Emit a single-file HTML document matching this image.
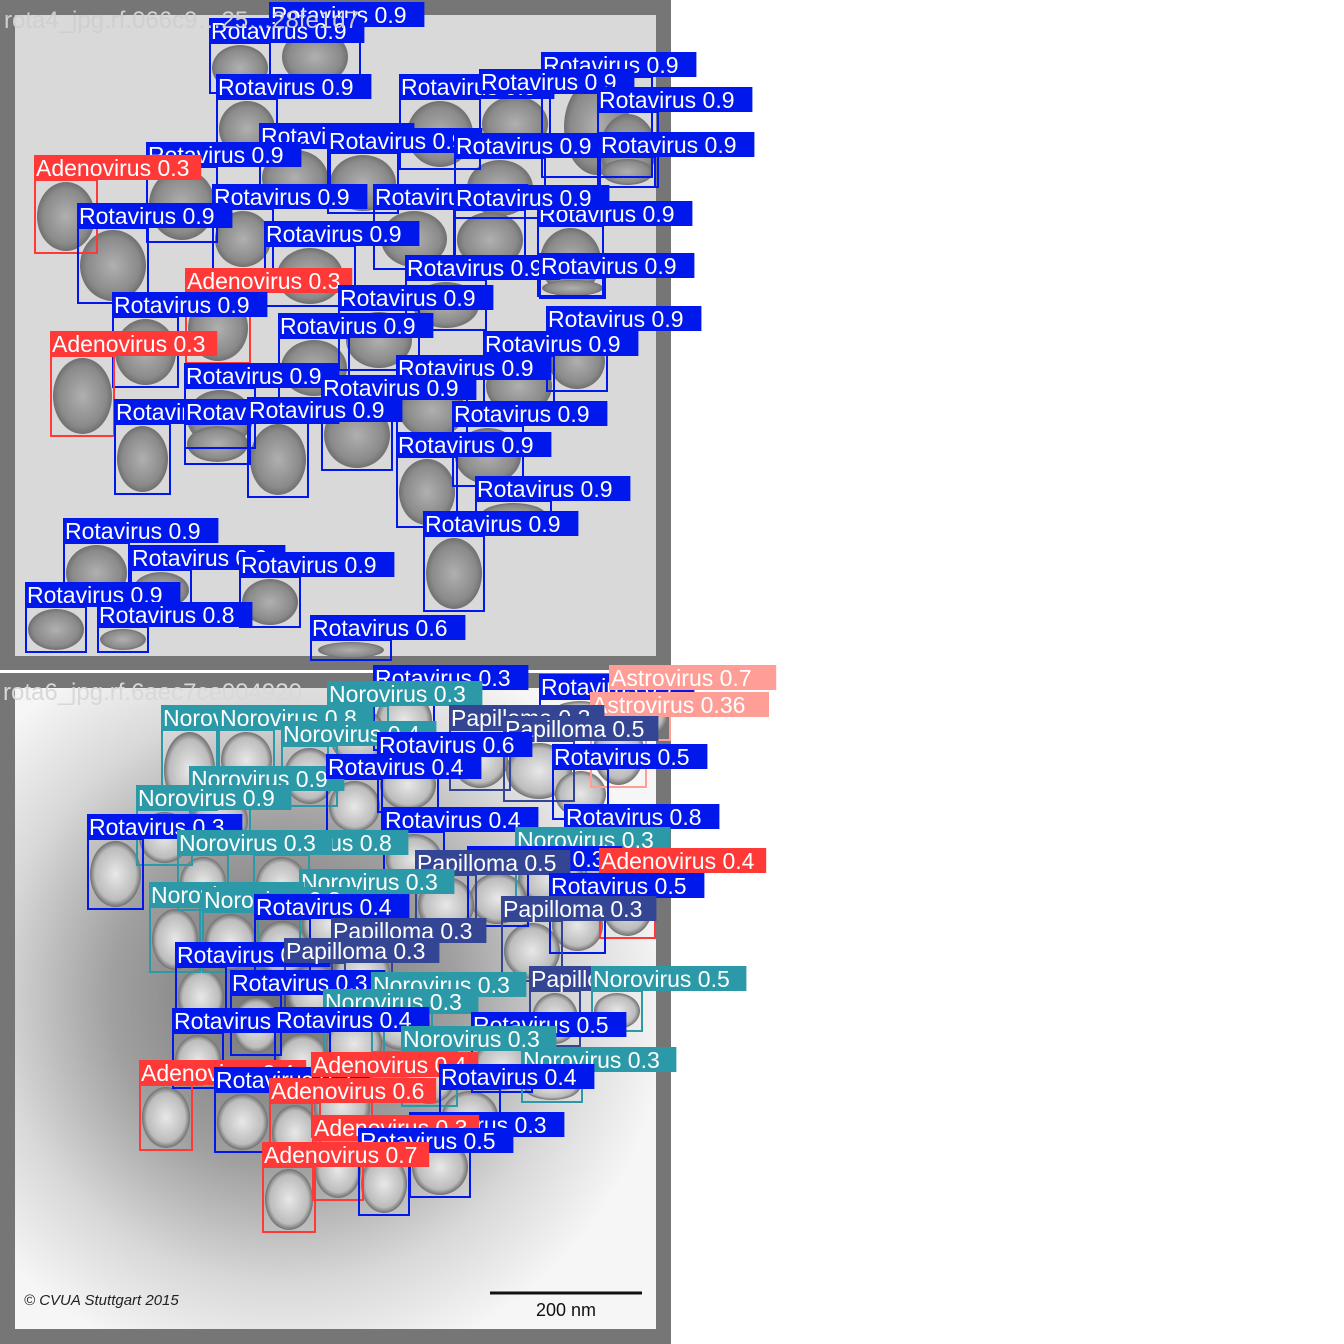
<!DOCTYPE html>
<html><head><meta charset="utf-8">
<style>
html,body{margin:0;padding:0;background:#fff;}
svg{display:block;}
text{font-family:"Liberation Sans",Arial,sans-serif;}
</style></head>
<body>
<svg id="chart" width="1344" height="1344" viewBox="0 0 1344 1344">
<defs>
<radialGradient id="bg2" cx="0.42" cy="0.48" r="0.6">
<stop offset="0" stop-color="#707070"/><stop offset="0.45" stop-color="#a0a0a0"/><stop offset="0.75" stop-color="#d8d8d8"/><stop offset="1" stop-color="#f6f6f6"/>
</radialGradient>
<radialGradient id="part" cx="0.5" cy="0.5" r="0.5">
<stop offset="0" stop-color="#b0b0b0"/><stop offset="0.8" stop-color="#8a8a8a"/><stop offset="1" stop-color="#707070"/>
</radialGradient>
<radialGradient id="part2" cx="0.5" cy="0.5" r="0.5">
<stop offset="0" stop-color="#e8e8e8"/><stop offset="0.8" stop-color="#bcbcbc"/><stop offset="1" stop-color="#707070"/>
</radialGradient>
</defs>
<g>
<rect x="0" y="0" width="671" height="670" fill="#767676"/>
<rect x="15" y="15" width="641" height="641" fill="#d9d9d9"/>
<g id="p1"></g>
<text x="4" y="28" font-size="24" fill="#cfcfcf">rota4_jpg.rf.066c9…25…28fe1d7</text>
</g>
<g>
<rect x="0" y="673" width="671" height="671" fill="#767676"/>
<rect x="15" y="688" width="641" height="641" fill="url(#bg2)"/>
<g id="p2"></g>
<text x="24" y="1305" font-size="15" font-style="italic" fill="#222">© CVUA Stuttgart 2015</text>
<line x1="490" y1="1293" x2="642" y2="1293" stroke="#111" stroke-width="3"/>
<text x="536" y="1316" font-size="18" fill="#111">200 nm</text>
<text x="3" y="700" font-size="24" fill="#d8d8d8">rota6_jpg.rf.6aec7ce004920</text>
</g>
</svg>
<script>
// Panel 1 detections
const p1Classes = ["Rotavirus","Rotavirus","Rotavirus","Rotavirus","Rotavirus","Rotavirus","Rotavirus","Rotavirus","Rotavirus","Rotavirus","Rotavirus","Rotavirus","Adenovirus","Rotavirus","Rotavirus","Rotavirus","Rotavirus","Rotavirus","Rotavirus","Rotavirus","Rotavirus","Adenovirus","Rotavirus","Rotavirus","Rotavirus","Rotavirus","Adenovirus","Rotavirus","Rotavirus","Rotavirus","Rotavirus","Rotavirus","Rotavirus","Rotavirus","Rotavirus","Rotavirus","Rotavirus","Rotavirus","Rotavirus","Rotavirus","Rotavirus","Rotavirus","Rotavirus","Rotavirus"];
const p1Conf = [0.9,0.9,0.9,0.9,0.9,0.9,0.9,0.9,0.9,0.9,0.9,0.9,0.3,0.9,0.9,0.9,0.9,0.9,0.9,0.9,0.9,0.3,0.9,0.9,0.9,0.9,0.3,0.9,0.9,0.9,0.9,0.9,0.9,0.9,0.9,0.9,0.9,0.9,0.9,0.9,0.9,0.9,0.8,0.6];
const p1X = [270,210,542,217,400,480,598,260,328,455,600,147,35,213,374,78,538,265,455,406,540,186,113,339,279,547,51,484,185,397,322,115,185,248,453,397,476,424,64,131,240,26,98,311];
const p1Y = [27,43,77,99,99,94,112,148,153,158,157,167,180,209,209,228,226,246,210,280,278,293,317,310,338,331,356,356,388,380,400,424,424,422,426,457,501,536,543,570,577,607,627,640];
const p1W = [90,60,110,60,80,70,60,70,70,90,55,70,62,60,80,70,65,90,70,80,65,64,65,80,70,60,63,70,70,70,70,55,65,60,70,60,75,60,65,60,60,60,50,80];
const p1H = [60,50,100,60,70,60,75,60,60,60,30,75,73,60,60,75,70,60,60,50,20,70,70,60,60,60,80,60,60,60,70,70,40,75,60,70,30,75,60,40,50,45,25,20];
// Panel 2 detections
const p2Classes = ["Rotavirus","Rotavirus","Astrovirus","Norovirus","Astrovirus","Norovirus","Norovirus","Papilloma","Papilloma","Norovirus","Rotavirus","Rotavirus","Norovirus","Rotavirus","Norovirus","Rotavirus","Rotavirus","Rotavirus","Rotavirus","Norovirus","Norovirus","Norovirus","Rotavirus","Adenovirus","Papilloma","Rotavirus","Norovirus","Norovirus","Norovirus","Rotavirus","Papilloma","Papilloma","Rotavirus","Papilloma","Rotavirus","Norovirus","Papilloma","Norovirus","Norovirus","Rotavirus","Rotavirus","Rotavirus","Norovirus","Norovirus","Adenovirus","Rotavirus","Adenovirus","Adenovirus","Rotavirus","Rotavirus","Adenovirus","Rotavirus","Adenovirus"];
const p2Conf = [0.3,0.7,0.7,0.3,0.36,0.3,0.8,0.3,0.5,0.4,0.6,0.5,0.9,0.4,0.9,0.3,0.4,0.8,0.3,0.3,0.8,0.3,0.3,0.4,0.5,0.5,0.3,0.3,0.3,0.4,0.3,0.3,0.3,0.3,0.3,0.3,0.5,0.5,0.3,0.3,0.4,0.5,0.3,0.3,0.4,0.3,0.4,0.6,0.4,0.3,0.3,0.5,0.7];
const p2X = [374,540,610,328,591,162,219,450,504,282,378,553,190,327,137,88,384,565,468,516,254,178,468,600,416,550,300,150,203,255,502,332,176,285,231,372,530,592,324,173,275,472,402,522,140,215,312,270,440,410,313,359,263];
const p2Y = [690,699,690,706,717,730,730,730,741,746,757,769,791,779,810,839,832,829,871,852,855,855,871,873,875,898,894,907,912,919,921,943,967,963,995,997,991,991,1014,1033,1032,1037,1051,1072,1085,1092,1077,1103,1089,1137,1140,1153,1167];
const p2W = [60,80,60,60,55,55,55,60,70,55,60,55,60,55,55,55,60,60,60,70,55,50,60,55,60,55,60,50,55,55,60,60,50,60,50,60,50,50,60,50,55,60,55,60,52,55,60,50,60,60,50,50,52];
const p2H = [60,40,50,60,70,80,60,60,60,60,55,50,60,55,55,70,55,50,55,55,60,55,55,65,60,55,60,65,60,60,60,60,60,60,60,55,55,40,60,55,55,55,55,30,65,60,60,60,55,60,60,62,65];

const palette = {Rotavirus:"#0018EC",Adenovirus:"#FF3838",Norovirus:"#2C99A8",Papilloma:"#344593",Astrovirus:"#FF9D97"};
const NS = "http://www.w3.org/2000/svg";
function mk(tag, attrs, parent){
  const e = document.createElementNS(NS, tag);
  for (const k in attrs) e.setAttribute(k, attrs[k]);
  parent.appendChild(e);
  return e;
}
function drawPanel(gid, cls, conf, xs, ys, ws, hs, partFill){
  const g = document.getElementById(gid);
  for (let i = 0; i < cls.length; i++){
    const el = mk("ellipse", {cx: xs[i] + ws[i]/2, cy: ys[i] + hs[i]/2, rx: Math.min(ws[i], 70)/2 - 2, ry: Math.max(hs[i], 20)/2 - 2, fill: partFill}, g);
    
    
  }
  for (let i = 0; i < cls.length; i++){
    const col = palette[cls[i]];
    const box = mk("rect", {x: xs[i], y: ys[i], width: ws[i], height: hs[i], fill: "none", stroke: col, "stroke-width": 2}, g);
    
    
  }
  for (let i = 0; i < cls.length; i++){
    const col = palette[cls[i]];
    const label = cls[i] + " " + conf[i];
    const tw = label.length * 11.8 + 2;
    const bg = mk("rect", {x: xs[i] - 1, y: ys[i] - 25, width: tw, height: 25, fill: col}, g);
    
    
    const t = mk("text", {x: xs[i] + 1, y: ys[i] - 4, "font-size": 23, fill: "#fff"}, g);
    t.textContent = label;
    
    
  }
}
drawPanel("p1", p1Classes, p1Conf, p1X, p1Y, p1W, p1H, "url(#part)");
drawPanel("p2", p2Classes, p2Conf, p2X, p2Y, p2W, p2H, "url(#part2)");
</script>
</body></html>
